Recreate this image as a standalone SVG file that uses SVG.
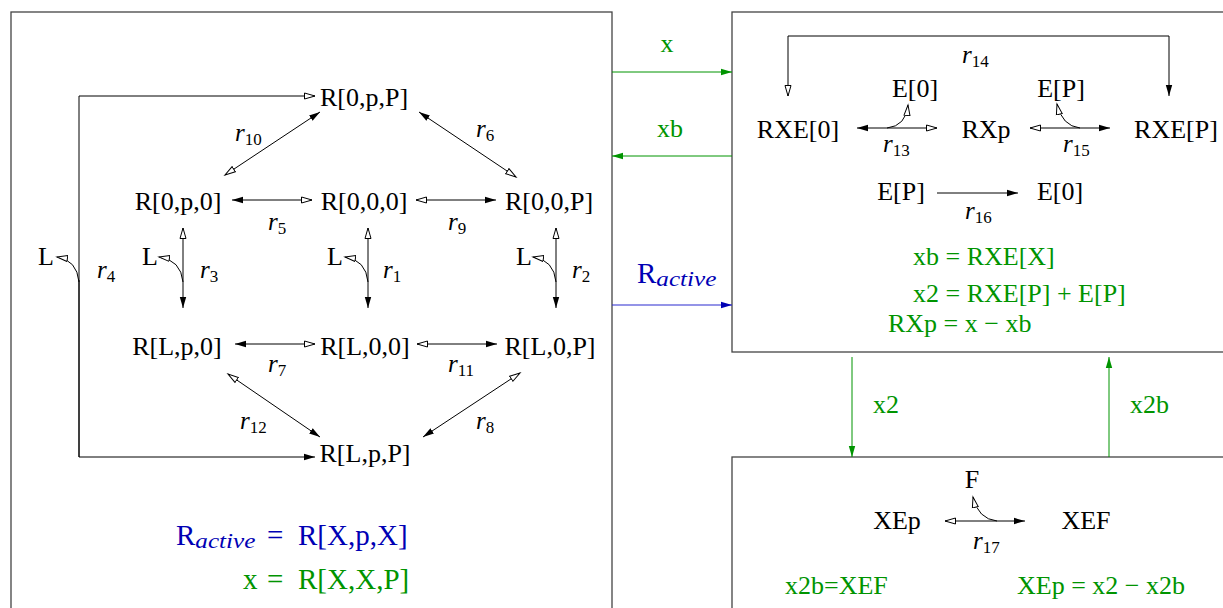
<svg xmlns="http://www.w3.org/2000/svg" width="1223" height="608" viewBox="0 0 1223 608">
<style>
text{font-family:"Liberation Serif","Times New Roman",serif;font-size:26px;fill:#000}
.n{text-anchor:middle}
.g{fill:#009400}
.b{fill:#0000b4}
.big{font-size:29px}
.rl{font-size:25px}
.rl .i{font-style:italic}
.rl .s{font-size:17px}
.box{fill:none;stroke:#444;stroke-width:1.3}
.c{fill:none;stroke:#000;stroke-width:1}
.cg{fill:none;stroke:#009400;stroke-width:1}
.cb{fill:none;stroke:#2a2ad0;stroke-width:1.2}
</style>
<defs>
<marker id="fa" markerUnits="userSpaceOnUse" markerWidth="12" markerHeight="8" refX="11" refY="4" orient="auto-start-reverse"><path d="M0,0.8 L11,4 L0,7.2 z" fill="#000"/></marker>
<marker id="oa" markerUnits="userSpaceOnUse" markerWidth="13" markerHeight="9" refX="11" refY="4.5" orient="auto-start-reverse"><path d="M0.5,1.5 L11,4.5 L0.5,7.5 z" fill="#fff" stroke="#000" stroke-width="1"/></marker>
<marker id="ga" markerUnits="userSpaceOnUse" markerWidth="12" markerHeight="8" refX="11" refY="4" orient="auto-start-reverse"><path d="M0,0.8 L11,4 L0,7.2 z" fill="#009400"/></marker>
<marker id="ba" markerUnits="userSpaceOnUse" markerWidth="12" markerHeight="8" refX="11" refY="4" orient="auto-start-reverse"><path d="M0,0.8 L11,4 L0,7.2 z" fill="#0000b4"/></marker>
</defs>
<rect width="1223" height="608" fill="#fff"/>

<g id="boxes">
<rect class="box" x="11" y="12" width="601" height="620"/>
<rect class="box" x="732" y="12" width="520" height="340"/>
<rect class="box" x="732" y="457" width="520" height="200"/>
</g>

<g id="connectors">
<!-- left box -->
<path class="c" d="M79,457 L79,96 L315,96" marker-end="url(#oa)"/>
<path class="c" d="M79,280 L79,457 L315,457" marker-end="url(#fa)"/>
<path class="c" d="M79,282 Q77,260 57,257" marker-end="url(#oa)"/>
<path class="c" d="M183,228 L183,308" marker-start="url(#oa)" marker-end="url(#fa)"/>
<path class="c" d="M183,282 Q181,260 159,257" marker-end="url(#oa)"/>
<path class="c" d="M368,228 L368,308" marker-start="url(#oa)" marker-end="url(#fa)"/>
<path class="c" d="M368,282 Q366,260 345,257" marker-end="url(#oa)"/>
<path class="c" d="M556,228 L556,308" marker-start="url(#oa)" marker-end="url(#fa)"/>
<path class="c" d="M556,282 Q554,260 533,257" marker-end="url(#oa)"/>
<path class="c" d="M232,200 L312,200" marker-start="url(#fa)" marker-end="url(#oa)"/>
<path class="c" d="M416,200 L496,200" marker-start="url(#oa)" marker-end="url(#fa)"/>
<path class="c" d="M235,344 L315,344" marker-start="url(#fa)" marker-end="url(#oa)"/>
<path class="c" d="M417,344 L497,344" marker-start="url(#oa)" marker-end="url(#fa)"/>
<path class="c" d="M225,175 L320,112" marker-start="url(#oa)" marker-end="url(#fa)"/>
<path class="c" d="M419,112 L516,177" marker-start="url(#fa)" marker-end="url(#oa)"/>
<path class="c" d="M228,374 L320,437" marker-start="url(#oa)" marker-end="url(#fa)"/>
<path class="c" d="M520,373 L423,437" marker-start="url(#oa)" marker-end="url(#fa)"/>
<!-- between boxes -->
<path class="cg" d="M612,72 L732,72" marker-end="url(#ga)"/>
<path class="cg" d="M732,156 L612,156" marker-end="url(#ga)"/>
<path class="cb" d="M612,305 L732,305" marker-end="url(#ba)"/>
<path class="cg" d="M852,357 L852,457" marker-end="url(#ga)"/>
<path class="cg" d="M1109,457 L1109,357" marker-end="url(#ga)"/>
<!-- right top box -->
<path class="c" d="M788,96 L788,36 L1169,36 L1169,96" marker-start="url(#oa)" marker-end="url(#fa)"/>
<path class="c" d="M857,128 L937,128" marker-start="url(#fa)" marker-end="url(#oa)"/>
<path class="c" d="M887,128 Q906,126 908,105" marker-end="url(#oa)"/>
<path class="c" d="M1030,128 L1110,128" marker-start="url(#oa)" marker-end="url(#fa)"/>
<path class="c" d="M1080,128 Q1062,126 1057,104" marker-end="url(#oa)"/>
<path class="c" d="M937,193 L1018,193" marker-end="url(#fa)"/>
<!-- right bottom box -->
<path class="c" d="M945,521 L1025,521" marker-start="url(#oa)" marker-end="url(#fa)"/>
<path class="c" d="M997,521 Q978,519 973,497" marker-end="url(#oa)"/>
</g>

<g id="n-R0pP"><text class="n" x="364" y="106">R[0,p,P]</text></g>
<g id="n-R0p0"><text class="n" x="178" y="210">R[0,p,0]</text></g>
<g id="n-R000"><text class="n" x="364" y="210">R[0,0,0]</text></g>
<g id="n-R00P"><text class="n" x="549" y="210">R[0,0,P]</text></g>
<g id="n-RLp0"><text class="n" x="177" y="355">R[L,p,0]</text></g>
<g id="n-RL00"><text class="n" x="365" y="355">R[L,0,0]</text></g>
<g id="n-RL0P"><text class="n" x="550" y="355">R[L,0,P]</text></g>
<g id="n-RLpP"><text class="n" x="365" y="462">R[L,p,P]</text></g>
<g id="n-L4"><text class="n" x="46" y="265">L</text></g>
<g id="n-L3"><text class="n" x="150" y="265">L</text></g>
<g id="n-L1"><text class="n" x="335" y="265">L</text></g>
<g id="n-L2"><text class="n" x="524" y="265">L</text></g>

<g id="rates">
<text class="rl" x="97" y="278"><tspan class="i">r</tspan><tspan class="s" dy="4">4</tspan></text>
<text class="rl" x="200" y="278"><tspan class="i">r</tspan><tspan class="s" dy="4">3</tspan></text>
<text class="rl" x="383" y="278"><tspan class="i">r</tspan><tspan class="s" dy="4">1</tspan></text>
<text class="rl" x="572" y="278"><tspan class="i">r</tspan><tspan class="s" dy="4">2</tspan></text>
<text class="rl" x="268" y="230"><tspan class="i">r</tspan><tspan class="s" dy="4">5</tspan></text>
<text class="rl" x="448" y="230"><tspan class="i">r</tspan><tspan class="s" dy="4">9</tspan></text>
<text class="rl" x="268" y="372"><tspan class="i">r</tspan><tspan class="s" dy="4">7</tspan></text>
<text class="rl" x="448" y="372"><tspan class="i">r</tspan><tspan class="s" dy="4">11</tspan></text>
<text class="rl" x="235" y="141"><tspan class="i">r</tspan><tspan class="s" dy="4">10</tspan></text>
<text class="rl" x="476" y="137"><tspan class="i">r</tspan><tspan class="s" dy="4">6</tspan></text>
<text class="rl" x="240" y="429"><tspan class="i">r</tspan><tspan class="s" dy="4">12</tspan></text>
<text class="rl" x="476" y="429"><tspan class="i">r</tspan><tspan class="s" dy="4">8</tspan></text>
<text class="rl" x="962" y="63"><tspan class="i">r</tspan><tspan class="s" dy="4">14</tspan></text>
<text class="rl" x="883" y="152"><tspan class="i">r</tspan><tspan class="s" dy="4">13</tspan></text>
<text class="rl" x="1063" y="152"><tspan class="i">r</tspan><tspan class="s" dy="4">15</tspan></text>
<text class="rl" x="965" y="219"><tspan class="i">r</tspan><tspan class="s" dy="4">16</tspan></text>
<text class="rl" x="973" y="549"><tspan class="i">r</tspan><tspan class="s" dy="4">17</tspan></text>
</g>

<g id="eq-left">
<text class="b big" x="176" y="545"><tspan>R</tspan><tspan font-style="italic" font-size="21" dy="3" textLength="60" lengthAdjust="spacingAndGlyphs">active</tspan><tspan x="267" dy="-3">=</tspan><tspan x="298">R[X,p,X]</tspan></text>
<text class="g big" x="243" y="589"><tspan>x</tspan><tspan x="267">=</tspan><tspan x="298">R[X,X,P]</tspan></text>
</g>

<g id="flow-labels">
<text class="g n" x="667" y="52">x</text>
<text class="g n" x="670" y="137">xb</text>
<text class="b big" x="637" y="283"><tspan>R</tspan><tspan font-style="italic" font-size="21" dy="3" textLength="60" lengthAdjust="spacingAndGlyphs">active</tspan></text>
<text class="g" x="873" y="413">x2</text>
<text class="g" x="1130" y="413">x2b</text>
</g>

<g id="n-RXE0"><text class="n" x="798" y="138">RXE[0]</text></g>
<g id="n-E0a"><text class="n" x="915" y="97">E[0]</text></g>
<g id="n-RXp"><text class="n" x="986" y="138">RXp</text></g>
<g id="n-EPa"><text class="n" x="1061" y="97">E[P]</text></g>
<g id="n-RXEP"><text class="n" x="1176" y="138">RXE[P]</text></g>
<g id="n-EPb"><text class="n" x="901" y="200">E[P]</text></g>
<g id="n-E0b"><text class="n" x="1060" y="200">E[0]</text></g>

<g id="eq-right">
<text class="g" x="913" y="265">xb = RXE[X]</text>
<text class="g" x="913" y="302">x2 = RXE[P] + E[P]</text>
<text class="g" x="888" y="332">RXp = x − xb</text>
</g>

<g id="n-F"><text class="n" x="972" y="488">F</text></g>
<g id="n-XEp"><text class="n" x="897" y="529">XEp</text></g>
<g id="n-XEF"><text class="n" x="1086" y="529">XEF</text></g>

<g id="eq-bottom">
<text class="g" x="785" y="594">x2b=XEF</text>
<text class="g" x="1017" y="594">XEp = x2 − x2b</text>
</g>
</svg>
